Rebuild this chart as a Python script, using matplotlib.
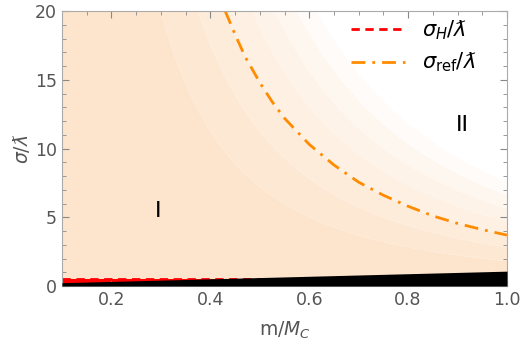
import numpy as np
import matplotlib
matplotlib.use("Agg")
import matplotlib.pyplot as plt
from matplotlib.colors import to_rgb
from matplotlib.ticker import MultipleLocator

# =========================================================
# DATA
# =========================================================
m_ref = [0.43, 0.45, 0.47, 0.50, 0.525, 0.55, 0.60, 0.65, 0.70,
         0.75, 0.80, 0.85, 0.90, 0.95, 1.00]
sigma_ref = [20.0, 18.3, 16.7, 14.8, 13.4, 12.2, 10.3, 8.8, 7.55,
             6.6, 5.8, 5.1, 4.55, 4.1, 3.7]

sigma_H = 0.5
m_black = [0.1, 1.0]
sigma_black = [0.24, 1.08]

# band edges: m where each shading band meets sigma = 20
m_band_top = [0.30, 0.375, 0.43, 0.485, 0.53, 0.575, 0.615]

PEACH = "#fde4cc"
GRAY = "#555555"

# =========================================================
# FIGURE
# =========================================================
fig = plt.figure(figsize=(5.23, 3.5), dpi=100)
ax = fig.add_axes([62 / 523, 1 - 286 / 350, 445 / 523, 275 / 350])

# shading bands (contours of m^2 * sigma, as in the picture)
mm, ss = np.meshgrid(np.linspace(0.1, 1.0, 400), np.linspace(0, 20, 400))
field = mm ** 2 * ss
levels = [0] + [m ** 2 * 20 for m in m_band_top] + [1000]
c0 = np.array(to_rgb(PEACH))
n = len(levels) - 1
band_colors = [tuple(c0 + (1 - c0) * i / (n - 1)) for i in range(n)]
ax.contourf(mm, ss, field, levels=levels, colors=band_colors, antialiased=True)

# red region below sigma_H and black region
ax.fill_between([0.1, 1.0], 0, sigma_H, color="red", lw=0)
ax.fill_between(m_black, 0, sigma_black, color="black", lw=0, zorder=3)

ax.plot([0.1, 1.0], [sigma_H, sigma_H], color="red", ls=(0, (3, 2)), lw=2,
        label=r"$\sigma_H/ƛ$", zorder=2)
ax.plot(m_ref, sigma_ref, color="#ff8c00", ls=(0, (5, 2.5, 1, 2.5)), lw=2,
        label=r"$\sigma_{\rm ref}/ƛ$", zorder=2)

ax.text(0.294, 5.45, "I", fontsize=16, ha="center", va="center")
ax.text(0.909, 11.7, "II", fontsize=16, ha="center", va="center")

ax.set_xlim(0.1, 1.0)
ax.set_ylim(0, 20)
ax.xaxis.set_major_locator(MultipleLocator(0.2))
ax.xaxis.set_minor_locator(MultipleLocator(0.05))
ax.yaxis.set_major_locator(MultipleLocator(5))
ax.yaxis.set_minor_locator(MultipleLocator(1))
ax.tick_params(which="both", direction="in", top=True, right=True,
               colors="#888888", labelcolor=GRAY, labelsize=12.5)
ax.tick_params(which="major", length=5)
ax.tick_params(which="minor", length=3)
ax.set_xticks([0.2, 0.4, 0.6, 0.8, 1.0])
ax.set_xticklabels(["0.2", "0.4", "0.6", "0.8", "1.0"])
for sp in ax.spines.values():
    sp.set_color("#aaaaaa")

ax.set_xlabel(r"m/$M_C$", color=GRAY, fontsize=13.5, labelpad=8)
ax.set_ylabel(r"$\sigma/ƛ$", color=GRAY, fontsize=13.5, labelpad=2)

leg = ax.legend(loc="upper right", bbox_to_anchor=(0.94, 0.99), frameon=False,
                fontsize=15, handlelength=2.6, handletextpad=0.8,
                borderaxespad=0, borderpad=0.2, labelspacing=0.45)

fig.savefig("out.png", dpi=100)
